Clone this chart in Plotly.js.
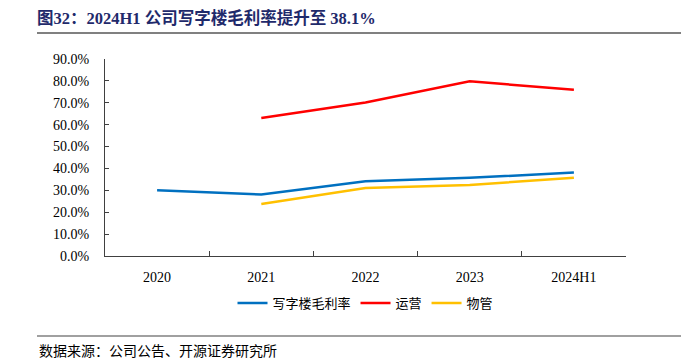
<!DOCTYPE html>
<html>
<head>
<meta charset="utf-8">
<script src="https://cdn.plot.ly/plotly-3.0.1.min.js"></script>
<style>html,body{margin:0;padding:0;background:#fff;}#chart{width:681px;height:359px;}</style>
</head>
<body>
<div id="chart"></div>
<script>
var categories = ['2020', '2021', '2022', '2023', '2024H1'];
var officeMargin = [30.0, 28.1, 34.2, 35.7, 38.1];
var operation = [null, 63.0, 70.1, 79.8, 76.0];
var property = [null, 23.8, 31.1, 32.4, 35.8];
var yTicks = [0, 10, 20, 30, 40, 50, 60, 70, 80, 90];
var yTickText = ['0.0%', '10.0%', '20.0%', '30.0%', '40.0%', '50.0%', '60.0%', '70.0%', '80.0%', '90.0%'];

var cjk = 'Noto Sans CJK SC';
var serif = 'Liberation Serif, Times New Roman, serif';

var traces = [
  {x: categories, y: officeMargin, name: '写字楼毛利率', type: 'scatter', mode: 'lines',
   line: {color: '#0070C0', width: 2.5}},
  {x: categories, y: operation, name: '运营', type: 'scatter', mode: 'lines',
   line: {color: '#FF0000', width: 2.5}},
  {x: categories, y: property, name: '物管', type: 'scatter', mode: 'lines',
   line: {color: '#FFC000', width: 2.5}}
];

var layout = {
  width: 681, height: 359,
  margin: {l: 105, r: 55, t: 59, b: 103},
  paper_bgcolor: '#fff', plot_bgcolor: '#fff',
  showlegend: true,
  title: {
    text: '<b>图32：2024H1 公司写字楼毛利率提升至 38.1%</b>',
    xref: 'container', yref: 'container', x: 37/681, xanchor: 'left',
    y: 1 - 18/359, yanchor: 'middle',
    font: {family: serif + ', ' + cjk, size: 16.5, color: '#1F2A6B'}
  },
  xaxis: {
    type: 'category', range: [-0.5, 4.5], showline: true, linecolor: '#404040', linewidth: 1,
    ticks: 'inside', tickson: 'boundaries', ticklen: 5, tickcolor: '#404040',
    showgrid: false, zeroline: false, ticklabelstandoff: 8,
    tickfont: {family: serif, size: 14, color: '#000'}
  },
  yaxis: {
    range: [0, 90], tickmode: 'array', tickvals: yTicks, ticktext: yTickText,
    showline: true, linecolor: '#404040', linewidth: 1,
    ticks: 'inside', ticklen: 4, tickcolor: '#404040',
    showgrid: false, zeroline: false, ticklabelstandoff: 12,
    tickfont: {family: serif, size: 14, color: '#000'}
  },
  legend: {
    orientation: 'h', x: 0.5, xanchor: 'center', y: (256-303)/197, yanchor: 'middle',
    font: {family: cjk, size: 13, color: '#000'}, itemwidth: 30
  },
  shapes: [
    {type: 'line', xref: 'paper', yref: 'paper', x0: (37-105)/521, x1: (681-105)/521,
     y0: (256-33)/197, y1: (256-33)/197, line: {color: '#808080', width: 2}},
    {type: 'line', xref: 'paper', yref: 'paper', x0: (37-105)/521, x1: (681-105)/521,
     y0: (256-336)/197, y1: (256-336)/197, line: {color: '#808080', width: 1.5}}
  ],
  annotations: [
    {text: '数据来源：公司公告、开源证券研究所', xref: 'paper', yref: 'paper',
     x: (37-105)/521, xanchor: 'left', y: (256-350)/197, yanchor: 'middle',
     showarrow: false, font: {family: cjk, size: 14, color: '#000'}}
  ]
};

Plotly.newPlot('chart', traces, layout, {displayModeBar: false, staticPlot: true});
</script>
</body>
</html>
